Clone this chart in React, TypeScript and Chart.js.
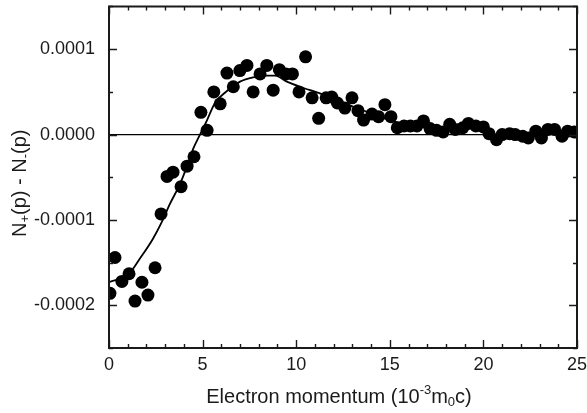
import React, { useEffect, useRef } from 'react';
import { Chart, registerables } from 'chart.js';

Chart.register(...registerables);

// Measured points: electron momentum (10^-3 m0c) and N+(p) - N-(p)
const momentum = [
  0.05, 0.32, 0.69, 1.07, 1.39, 1.76, 2.08, 2.46, 2.78, 3.1, 3.42, 3.85, 4.17, 4.54,
  4.91, 5.24, 5.6, 5.94, 6.3, 6.64, 6.99, 7.37, 7.7, 8.07, 8.43, 8.77, 9.1, 9.45,
  9.8, 10.15, 10.5, 10.85, 11.2, 11.6, 11.9, 12.2, 12.6, 12.98, 13.3, 13.6, 14.05,
  14.4, 14.74, 15.06, 15.4, 15.76, 16.1, 16.45, 16.8, 17.15, 17.5, 17.85, 18.2,
  18.5, 18.9, 19.2, 19.6, 20.0, 20.3, 20.7, 21.0, 21.4, 21.7, 22.1, 22.4, 22.8,
  23.1, 23.45, 23.8, 24.2, 24.5, 24.85,
];
const asymmetry = [
  -1.86e-4, -1.44e-4, -1.72e-4, -1.63e-4, -1.95e-4, -1.73e-4, -1.88e-4, -1.56e-4,
  -0.93e-4, -0.49e-4, -0.44e-4, -0.61e-4, -0.37e-4, -0.26e-4, 0.26e-4, 0.05e-4,
  0.5e-4, 0.36e-4, 0.72e-4, 0.56e-4, 0.75e-4, 0.81e-4, 0.5e-4, 0.71e-4, 0.81e-4,
  0.52e-4, 0.76e-4, 0.71e-4, 0.71e-4, 0.5e-4, 0.91e-4, 0.43e-4, 0.19e-4, 0.43e-4,
  0.44e-4, 0.37e-4, 0.31e-4, 0.43e-4, 0.28e-4, 0.17e-4, 0.24e-4, 0.21e-4, 0.35e-4,
  0.21e-4, 0.08e-4, 0.1e-4, 0.1e-4, 0.1e-4, 0.16e-4, 0.07e-4, 0.05e-4, 0.03e-4,
  0.12e-4, 0.06e-4, 0.08e-4, 0.13e-4, 0.1e-4, 0.09e-4, 0.01e-4, -0.06e-4, 0.0,
  0.01e-4, 0.0, -0.02e-4, -0.04e-4, 0.04e-4, -0.04e-4, 0.06e-4, 0.06e-4, -0.02e-4,
  0.04e-4, 0.03e-4,
];

// Smooth fitted curve
const fitMomentum = [
  0, 1.07, 1.66, 2.35, 2.83, 3.26, 3.79, 4.17, 4.49, 4.86, 5.24, 5.66, 6.3, 7.0,
  7.7, 8.44, 8.87, 9.5, 10.2, 11.3, 12, 13, 14, 15, 16, 17, 18, 19, 20, 20.7,
  21.5, 22.5, 23.5, 24.5, 25,
];
const fitAsymmetry = [
  -1.73e-4, -1.63e-4, -1.45e-4, -1.22e-4, -1.02e-4, -0.81e-4, -0.58e-4, -0.37e-4,
  -0.17e-4, 0.0, 0.17e-4, 0.37e-4, 0.51e-4, 0.62e-4, 0.67e-4, 0.69e-4, 0.69e-4,
  0.62e-4, 0.56e-4, 0.48e-4, 0.42e-4, 0.33e-4, 0.25e-4, 0.17e-4, 0.11e-4, 0.08e-4,
  0.07e-4, 0.08e-4, 0.06e-4, -0.02e-4, 0.0, -0.01e-4, 0.03e-4, 0.02e-4, 0.03e-4,
];

const xTickValues = [0, 5, 10, 15, 20, 25];
const yTickValues = [-0.0002, -0.0001, 0, 0.0001];
const X_MIN = 0;
const X_MAX = 25;
const Y_MIN = -0.00025;
const Y_MAX = 0.00015;

const FONT = '"Liberation Sans", Arial, Helvetica, sans-serif';
const INK = '#1a1a1a';

type Part = { text: string; size: number; dy: number };

function drawRich(ctx: CanvasRenderingContext2D, parts: Part[], cx: number, baseline: number) {
  let total = 0;
  for (const p of parts) {
    ctx.font = `${p.size}px ${FONT}`;
    total += ctx.measureText(p.text).width;
  }
  let x = cx - total / 2;
  ctx.textAlign = 'left';
  ctx.textBaseline = 'alphabetic';
  for (const p of parts) {
    ctx.font = `${p.size}px ${FONT}`;
    ctx.fillText(p.text, x, baseline + p.dy);
    x += ctx.measureText(p.text).width;
  }
}

const framePlugin = {
  id: 'originFrame',
  afterDraw(chart: any) {
    const { ctx, chartArea, scales } = chart;
    const { left, right, top, bottom } = chartArea;
    const xs = scales.x;
    const ys = scales.y;
    ctx.save();
    ctx.strokeStyle = INK;
    ctx.lineWidth = 2;
    ctx.strokeRect(left, top, right - left, bottom - top);
    ctx.lineWidth = 1.4;
    ctx.beginPath();
    for (let v = X_MIN; v <= X_MAX; v += 1) {
      const px = Math.round(xs.getPixelForValue(v)) + 0.5;
      const len = v % 5 === 0 ? 8 : 4;
      ctx.moveTo(px, bottom);
      ctx.lineTo(px, bottom - len);
      ctx.moveTo(px, top);
      ctx.lineTo(px, top + len);
    }
    for (let k = -5; k <= 3; k++) {
      const py = Math.round(ys.getPixelForValue(k * 0.00005)) + 0.5;
      const len = k % 2 === 0 ? 8 : 4;
      ctx.moveTo(left, py);
      ctx.lineTo(left + len, py);
      ctx.moveTo(right, py);
      ctx.lineTo(right - len, py);
    }
    ctx.stroke();

    // Axis titles
    ctx.fillStyle = INK;
    const cx = (left + right) / 2 - 4;
    drawRich(
      ctx,
      [
        { text: 'Electron momentum (10', size: 20, dy: 0 },
        { text: '-3', size: 13, dy: -9 },
        { text: 'm', size: 20, dy: 0 },
        { text: '0', size: 13, dy: 3 },
        { text: 'c)', size: 20, dy: 0 },
      ],
      cx,
      403
    );
    ctx.save();
    ctx.translate(26, (top + bottom) / 2 + 6);
    ctx.rotate(-Math.PI / 2);
    drawRich(
      ctx,
      [
        { text: 'N', size: 20, dy: 0 },
        { text: '+', size: 13, dy: 3 },
        { text: '(p) - N', size: 20, dy: 0 },
        { text: '-', size: 13, dy: 3 },
        { text: '(p)', size: 20, dy: 0 },
      ],
      0,
      0
    );
    ctx.restore();
    ctx.restore();
  },
};

export default function App() {
  const canvasRef = useRef<HTMLCanvasElement | null>(null);

  useEffect(() => {
    const canvas = canvasRef.current;
    if (!canvas) return;
    const points = momentum.map((x, i) => ({ x, y: asymmetry[i] }));
    const fit = fitMomentum.map((x, i) => ({ x, y: fitAsymmetry[i] }));
    const zero = [
      { x: X_MIN, y: 0 },
      { x: X_MAX, y: 0 },
    ];
    const chart = new Chart(canvas, {
      type: 'scatter',
      data: {
        datasets: [
          {
            label: 'Measured',
            data: points,
            pointRadius: 6.5,
            pointBackgroundColor: '#000',
            pointBorderColor: '#000',
            pointBorderWidth: 0,
            showLine: false,
            order: 0,
          },
          {
            label: 'Fit',
            data: fit,
            showLine: true,
            pointRadius: 0,
            borderColor: '#000',
            borderWidth: 1.8,
            cubicInterpolationMode: 'monotone',
            order: 1,
          },
          {
            label: 'Zero',
            data: zero,
            showLine: true,
            pointRadius: 0,
            borderColor: '#000',
            borderWidth: 1.2,
            order: 2,
          },
        ],
      },
      options: {
        animation: false,
        responsive: false,
        devicePixelRatio: 1,
        layout: { padding: { top: 6, right: 10, left: 0, bottom: 0 } },
        plugins: {
          legend: { display: false },
          tooltip: { enabled: false },
          title: { display: false },
        },
        scales: {
          x: {
            type: 'linear',
            min: X_MIN,
            max: X_MAX,
            grid: { display: false, drawTicks: false },
            border: { display: false },
            afterBuildTicks: (scale: any) => {
              scale.ticks = xTickValues.map((value) => ({ value }));
            },
            afterFit: (scale: any) => {
              scale.height = 65;
              scale.paddingLeft = 0;
              scale.paddingRight = 0;
              scale.paddingTop = 0;
              scale.paddingBottom = 0;
            },
            ticks: {
              color: INK,
              font: { family: FONT, size: 18 },
              padding: 6,
              maxRotation: 0,
              autoSkip: false,
              callback: (v: any) => String(v),
            },
          },
          y: {
            type: 'linear',
            min: Y_MIN,
            max: Y_MAX,
            grid: { display: false, drawTicks: false },
            border: { display: false },
            afterBuildTicks: (scale: any) => {
              scale.ticks = yTickValues.map((value) => ({ value }));
            },
            afterFit: (scale: any) => {
              scale.width = 109;
              scale.paddingLeft = 0;
              scale.paddingRight = 0;
              scale.paddingTop = 0;
              scale.paddingBottom = 0;
            },
            ticks: {
              color: INK,
              font: { family: FONT, size: 18 },
              padding: 14,
              autoSkip: false,
              callback: (v: any) => Number(v).toFixed(4),
            },
          },
        },
      },
      plugins: [framePlugin],
    } as any);
    return () => chart.destroy();
  }, []);

  return (
    <div style={{ position: 'fixed', left: 0, top: 0, width: 587, height: 413, background: '#fff' }}>
      <canvas ref={canvasRef} width={587} height={413} style={{ display: 'block' }} />
    </div>
  );
}
